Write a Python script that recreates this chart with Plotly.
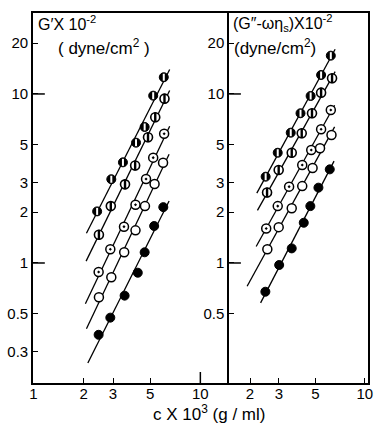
import numpy as np
import plotly.graph_objects as go

# ---------------- data ----------------
# Left panel: G' x 10^-2 (dyne/cm^2) vs c x 10^3 (g/ml)
L_A_c = [2.41, 2.93, 3.44, 4.12, 4.64, 5.22, 6.04]
L_A_v = [2.02, 3.13, 3.94, 5.15, 6.38, 9.77, 12.56]
L_B_c = [2.47, 2.91, 3.54, 4.07, 4.86, 5.37, 6.10]
L_B_v = [1.47, 2.17, 2.92, 3.77, 5.54, 7.28, 9.38]
L_C_c = [2.46, 2.89, 3.49, 4.09, 4.73, 5.22, 6.07]
L_C_v = [0.885, 1.205, 1.64, 2.21, 3.14, 4.20, 5.82]
L_D_c = [2.47, 2.93, 3.50, 4.09, 4.66, 5.32, 5.98]
L_D_v = [0.627, 0.823, 1.157, 1.56, 2.17, 2.93, 3.92]
L_E_c = [2.46, 2.89, 3.52, 4.22, 4.64, 5.29, 6.00]
L_E_v = [0.376, 0.475, 0.641, 0.876, 1.157, 1.655, 2.14]

# Right panel: (G'' - w eta_s) x 10^-2 (dyne/cm^2)
R_A_c = [2.49, 2.95, 3.54, 4.06, 4.68, 5.42, 6.21]
R_A_v = [3.24, 4.49, 5.90, 7.69, 9.73, 12.95, 16.85]
R_B_c = [2.54, 2.99, 3.59, 4.13, 4.77, 5.42, 6.32]
R_B_v = [2.61, 3.55, 4.49, 5.85, 7.69, 10.18, 12.38]
R_C_c = [2.51, 2.95, 3.46, 4.16, 4.72, 5.42, 6.21]
R_C_v = [1.60, 2.17, 2.83, 3.80, 4.66, 6.18, 8.04]
R_D_c = [2.55, 2.99, 3.59, 4.16, 4.81, 5.34, 6.27]
R_D_v = [1.205, 1.63, 2.11, 2.85, 3.65, 4.77, 5.72]
R_E_c = [2.48, 3.01, 3.59, 4.25, 4.66, 5.22, 6.12]
R_E_v = [0.676, 0.973, 1.22, 1.73, 2.17, 2.79, 3.58]

# extent of the fitted straight lines (c values)
L_line_lo = [2.08, 2.07, 2.05, 2.08, 2.12]
L_line_hi = [6.55, 6.55, 6.55, 6.50, 6.50]
R_line_lo = [2.20, 2.22, 2.18, 1.92, 2.32]
R_line_hi = [6.60, 6.60, 6.55, 6.55, 6.50]

x_ticks_left = [1, 2, 3, 5, 10]
x_ticks_right = [2, 3, 5, 10]
y_ticks_left = [0.3, 0.5, 1, 2, 3, 5, 10, 20]
y_ticks_right = [0.5, 1, 2, 3, 5, 10, 20]
long_y_ticks = [1, 10]
long_x_ticks = [10]

def fmt(v):
    return ("%g" % v)

FONT = "Liberation Sans, Arial, sans-serif"
fig = go.Figure()

left = [(L_A_c, L_A_v), (L_B_c, L_B_v), (L_C_c, L_C_v), (L_D_c, L_D_v), (L_E_c, L_E_v)]
right = [(R_A_c, R_A_v), (R_B_c, R_B_v), (R_C_c, R_C_v), (R_D_c, R_D_v), (R_E_c, R_E_v)]

def add_panel(series, lo, hi, xa, ya):
    for i, (c, v) in enumerate(series):
        lc, lv = np.log10(c), np.log10(v)
        k, b = np.polyfit(lc, lv, 1)
        xs = np.linspace(np.log10(lo[i]), np.log10(hi[i]), 2)
        fig.add_trace(go.Scatter(x=10 ** xs, y=10 ** (k * xs + b), mode="lines",
                                 line=dict(color="black", width=1.3),
                                 xaxis=xa, yaxis=ya, showlegend=False, hoverinfo="skip"))
    S = 9
    # A: dark circle with white slit
    c, v = series[0]
    fig.add_trace(go.Scatter(x=c, y=v, mode="markers", xaxis=xa, yaxis=ya, showlegend=False,
                             marker=dict(symbol="circle", size=S, color="black",
                                         line=dict(color="black", width=1))))
    fig.add_trace(go.Scatter(x=c, y=v, mode="markers", xaxis=xa, yaxis=ya, showlegend=False,
                             marker=dict(symbol="line-ns", size=5, color="white",
                                         line=dict(color="white", width=2))))
    # B: open circle with vertical bar
    c, v = series[1]
    fig.add_trace(go.Scatter(x=c, y=v, mode="markers", xaxis=xa, yaxis=ya, showlegend=False,
                             marker=dict(symbol="circle", size=S, color="white",
                                         line=dict(color="black", width=1.6))))
    fig.add_trace(go.Scatter(x=c, y=v, mode="markers", xaxis=xa, yaxis=ya, showlegend=False,
                             marker=dict(symbol="line-ns", size=7, color="black",
                                         line=dict(color="black", width=2.4))))
    # C: circle with dot
    c, v = series[2]
    fig.add_trace(go.Scatter(x=c, y=v, mode="markers", xaxis=xa, yaxis=ya, showlegend=False,
                             marker=dict(symbol="circle-dot", size=S, color="white",
                                         line=dict(color="black", width=1.5))))
    # D: open circle
    c, v = series[3]
    fig.add_trace(go.Scatter(x=c, y=v, mode="markers", xaxis=xa, yaxis=ya, showlegend=False,
                             marker=dict(symbol="circle", size=S, color="white",
                                         line=dict(color="black", width=1.5))))
    # E: filled circle
    c, v = series[4]
    fig.add_trace(go.Scatter(x=c, y=v, mode="markers", xaxis=xa, yaxis=ya, showlegend=False,
                             marker=dict(symbol="circle", size=S, color="black",
                                         line=dict(color="black", width=1))))

add_panel(left, L_line_lo, L_line_hi, "x", "y")
add_panel(right, R_line_lo, R_line_hi, "x2", "y2")

YR = [-0.710, 1.479]
axis_common = dict(type="log", ticks="inside", ticklen=5, tickwidth=1.3, tickcolor="black",
                   showline=True, linecolor="black", linewidth=1.6,
                   showgrid=False, zeroline=False,
                   tickfont=dict(family=FONT, size=15, color="black"))

SPLIT = (232 - 33) / 340.0
fig.update_layout(
    width=376, height=424,
    margin=dict(l=33, r=3, t=13, b=41),
    paper_bgcolor="white", plot_bgcolor="white",
    showlegend=False,
    xaxis=dict(axis_common, domain=[0, SPLIT], range=[-0.002, 1.172], anchor="y", mirror=True,
               ticklabelstandoff=-4,
               tickvals=x_ticks_left, ticktext=[fmt(t) for t in x_ticks_left]),
    yaxis=dict(axis_common, range=YR, anchor="x", mirror=False,
               tickvals=y_ticks_left, ticktext=[fmt(t) for t in y_ticks_left]),
    xaxis2=dict(axis_common, domain=[SPLIT, 1], range=[0.1734, 1.0197], anchor="y2", mirror=True,
                ticklabelstandoff=-4, ticklabeloverflow="allow",
                tickvals=x_ticks_right, ticktext=[fmt(t) for t in x_ticks_right]),
    yaxis2=dict(axis_common, range=YR, anchor="x2", mirror=True,
                tickvals=y_ticks_right, ticktext=[fmt(t) for t in y_ticks_right]),
)

shapes = []
for t in long_y_ticks:
    shapes.append(dict(type="line", xref="x domain", yref="y", x0=0, x1=12 / 199.0, y0=t, y1=t,
                       line=dict(color="black", width=1.5)))
    shapes.append(dict(type="line", xref="x2 domain", yref="y2", x0=0, x1=12 / 141.0, y0=t, y1=t,
                       line=dict(color="black", width=1.5)))
for t in long_x_ticks:
    shapes.append(dict(type="line", xref="x", yref="y domain", x0=t, x1=t, y0=0, y1=11 / 370.0,
                       line=dict(color="black", width=1.5)))
fig.update_layout(shapes=shapes)

fig.add_annotation(xref="paper", yref="paper", x=0.009, y=0.972, xanchor="left", yanchor="middle",
                   text="G′X 10<sup>-2</sup>", showarrow=False,
                   font=dict(family=FONT, size=16, color="black"))
fig.add_annotation(xref="paper", yref="paper", x=0.068, y=0.908, xanchor="left", yanchor="middle",
                   text="( dyne/cm<sup>2</sup> )", showarrow=False,
                   font=dict(family=FONT, size=17, color="black"))
fig.add_annotation(xref="paper", yref="paper", x=0.591, y=0.972, xanchor="left", yanchor="middle",
                   text="(G″-ωη<sub>s</sub>)X10<sup>-2</sup>", showarrow=False,
                   font=dict(family=FONT, size=16, color="black"))
fig.add_annotation(xref="paper", yref="paper", x=0.595, y=0.908, xanchor="left", yanchor="middle",
                   text="(dyne/cm<sup>2</sup>)", showarrow=False,
                   font=dict(family=FONT, size=17, color="black"))
fig.add_annotation(xref="paper", yref="paper", x=0.525, y=-0.080, xanchor="center", yanchor="middle",
                   text="c X 10<sup>3</sup> (g / ml)", showarrow=False,
                   font=dict(family=FONT, size=17, color="black"))

fig.write_html("out.html")
